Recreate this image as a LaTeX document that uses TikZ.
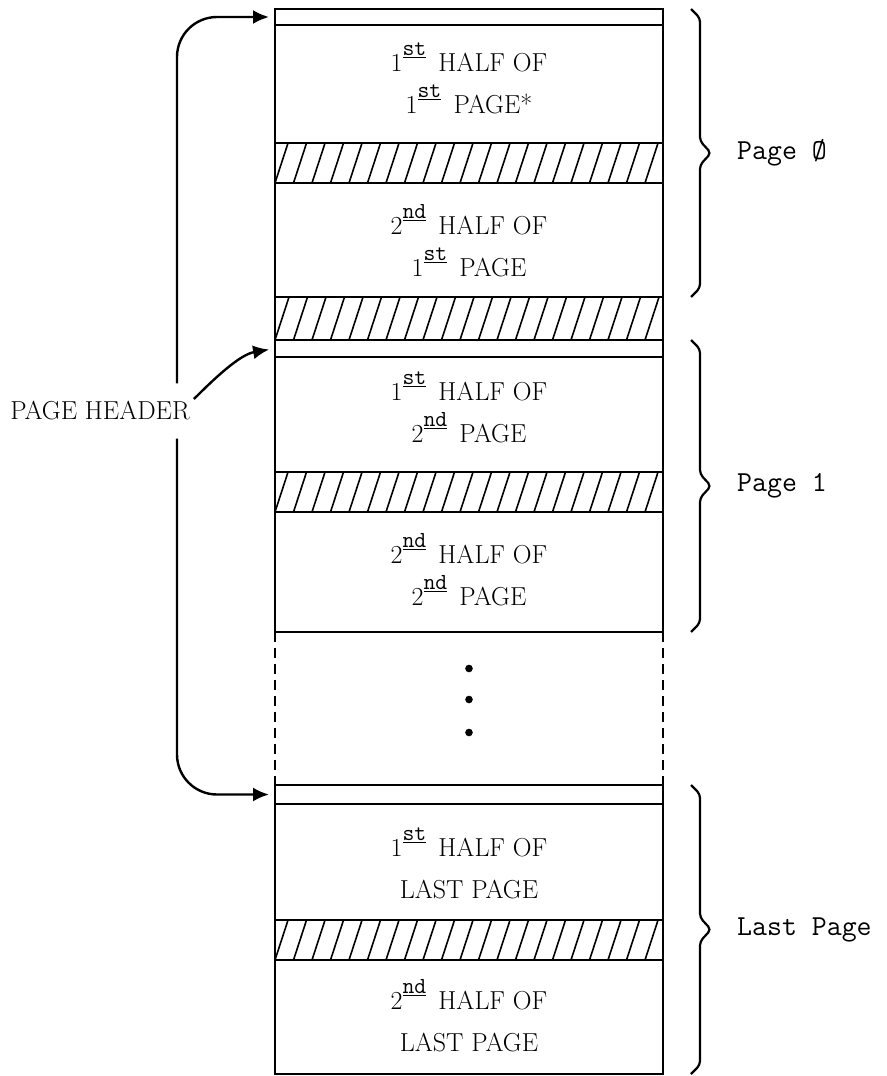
\documentclass[tikz,border=0pt]{standalone}
\usetikzlibrary{positioning,arrows.meta,calc}

\newcommand\ordsup[1]{\smash{\raisebox{16pt}{\underline{\fontsize{23}{23}\selectfont\ttfamily #1}}}\,}

% brace to the right of a page: top cell, bottom cell, label name, label text
\newcommand\pagebrace[4]{%
  \path (#1.north east) ++(37,0) coordinate (bt)
        (#2.south east) ++(37,0) coordinate (bb);
  \coordinate (bm) at ($(bt)!0.5!(bb)$);
  \draw[bracepath] ($(bt)+(-9,0)$) -- ($(bt)+(0,9)$) -- ($(bm)+(0,-12)$)
    -- ($(bm)+(11,0)$) coordinate (tip) -- ($(bm)+(0,12)$)
    -- ($(bb)+(0,-9)$) -- ($(bb)+(-9,0)$);
  \node[pagelbl,right=26pt of tip] (#3) {#4};}

\begin{document}
\begin{tikzpicture}[x=1pt,y=-1pt,
  cell/.style={draw,line width=1.7pt,minimum width=388pt,inner sep=0pt,outer sep=0pt},
  celltxt/.style={align=center,inner sep=0pt,font=\fontsize{26}{42}\selectfont},
  gapcell/.style={minimum width=388pt,inner sep=0pt,outer sep=0pt},
  hdrarrow/.style={line width=2.4pt,-{Latex[length=16pt,width=14pt]},shorten >=6pt},
  bracepath/.style={line width=2.2pt,rounded corners=4pt},
  pagelbl/.style={font=\fontsize{29}{30}\selectfont\ttfamily,inner sep=0pt}]

  \fill[white] (0,0) rectangle (886,1076);
  \useasboundingbox (0,0) rectangle (886,1076);

  % page 0
  \node[cell,minimum height=16pt,anchor=north] (hdrA) at (469,9) {};
  \node[cell,minimum height=118pt,below=0pt of hdrA] (halfA1) {};
  \node[cell,minimum height=40pt,below=0pt of halfA1] (hatchA) {};
  \node[cell,minimum height=114pt,below=0pt of hatchA] (halfA2) {};
  \node[cell,minimum height=43pt,below=0pt of halfA2] (hatchB) {};
  \node[celltxt] (txtA1) at (halfA1.center) {1\ordsup{st} HALF OF\\1\ordsup{st} PAGE*};
  \node[celltxt] (txtA2) at ($(halfA2.center)+(0,7)$) {2\ordsup{nd} HALF OF\\1\ordsup{st} PAGE};

  % page 1
  \node[cell,minimum height=17pt,below=0pt of hatchB] (hdrB) {};
  \node[cell,minimum height=115pt,below=0pt of hdrB] (halfB1) {};
  \node[cell,minimum height=40pt,below=0pt of halfB1] (hatchC) {};
  \node[cell,minimum height=120pt,below=0pt of hatchC] (halfB2) {};
  \node[celltxt] (txtB1) at ($(halfB1.center)+(0,-2)$) {1\ordsup{st} HALF OF\\2\ordsup{nd} PAGE};
  \node[celltxt] (txtB2) at ($(halfB2.center)+(0,4)$) {2\ordsup{nd} HALF OF\\2\ordsup{nd} PAGE};

  % pages between
  \node[gapcell,minimum height=153pt,below=0pt of halfB2] (gap) {};
  \draw[line width=1.7pt,dash pattern=on 10pt off 6pt]
    (gap.north west) -- (gap.south west) (gap.north east) -- (gap.south east);
  \foreach \d in {-40,-9,24}
    \fill ($(gap.center)+(0,\d)$) circle (3.8pt);

  % last page
  \node[cell,minimum height=19pt,below=0pt of gap] (hdrC) {};
  \node[cell,minimum height=116pt,below=0pt of hdrC] (halfC1) {};
  \node[cell,minimum height=40pt,below=0pt of halfC1] (hatchD) {};
  \node[cell,minimum height=114pt,below=0pt of hatchD] (halfC2) {};
  \node[celltxt] (txtC1) at ($(halfC1.center)+(0,7)$) {1\ordsup{st} HALF OF\\LAST PAGE};
  \node[celltxt] (txtC2) at ($(halfC2.center)+(0,5)$) {2\ordsup{nd} HALF OF\\LAST PAGE};

  % hatching
  \foreach \h in {hatchA,hatchB,hatchC,hatchD} {
    \begin{scope}
      \clip (\h.north west) rectangle (\h.south east);
      \foreach \i in {0,...,22}
        \draw[line width=1.6pt] ($(\h.south west)+(\i*18.5,0)$) -- ++(15,-46);
    \end{scope}
  }

  % braces
  \pagebrace{hdrA}{halfA2}{pg0}{Page \O}
  \pagebrace{hdrB}{halfB2}{pg1}{Page 1}
  \pagebrace{hdrC}{halfC2}{pgL}{Last Page}

  % page header arrows
  \node[font=\fontsize{26}{30}\selectfont,inner xsep=1pt,inner ysep=18pt] (hdr) at (100,411) {PAGE HEADER};
  \coordinate (spine) at (177,0);
  \draw[hdrarrow,rounded corners=40pt] (hdr.north -| spine) |- (hdrA.west);
  \draw[hdrarrow,rounded corners=40pt] (hdr.south -| spine) |- (hdrC.west);
  \draw[hdrarrow] ($(hdr.east)+(3,-12)$) .. controls +(22,-22) and +(-35,6) .. (hdrB.west);
\end{tikzpicture}
\end{document}
